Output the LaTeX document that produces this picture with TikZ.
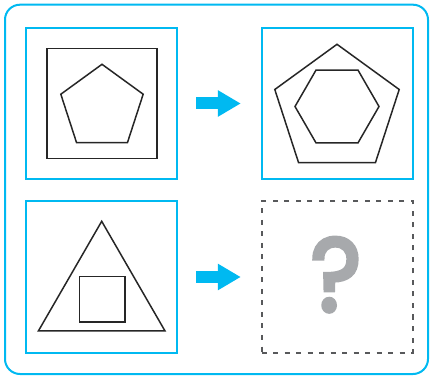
\documentclass[tikz,border=0pt]{standalone}
\usepackage{fontspec}
\newfontfamily\qfont{Poppins}[FakeBold=4]
\usetikzlibrary{arrows.meta,positioning,shapes.geometric}
\definecolor{pcyan}{RGB}{0,185,241}
\definecolor{dashgray}{RGB}{88,89,91}
\definecolor{qgray}{RGB}{167,169,172}

\begin{document}
\begin{tikzpicture}[x=1pt, y=-1pt,
  frame/.style={draw=pcyan, line width=2pt, rounded corners=15pt},
  panel/.style={draw=pcyan, line width=2pt, rectangle,
    minimum width=151pt, minimum height=151pt, inner sep=0pt},
  emptypanel/.style={draw=dashgray, line width=2pt, rectangle,
    dash pattern=on 5pt off 6.5pt,
    minimum width=151pt, minimum height=151pt, inner sep=0pt},
  figure/.style={draw=black!85, line width=1.5pt, inner sep=0pt},
  poly/.style={figure, regular polygon, regular polygon sides=#1},
  sq/.style={figure, rectangle, minimum width=#1, minimum height=#1},
  fatarrow/.style={-{Triangle[length=23pt, width=25pt]}, draw=pcyan,
    line width=12pt},
]
\useasboundingbox (0,0) rectangle (431,379);

%--- outer frame ---
\draw[frame] (5,4.7) rectangle (428,374);

%--- panels ---
\node[panel]      (pa) at (101.5,103.5) {};
\node[panel]      (pb) at (337,103.5)   {};
\node[panel]      (pc) at (101.5,277)   {};
\node[emptypanel] (pd) at (337,277)     {};

%--- top left: pentagon in square ---
\node[sq=110pt] (sqa) at (102,103.5) {};
\node[poly=5, minimum size=86.6pt] (pena) at (102,107.6) {};

%--- top right: hexagon in pentagon ---
\node[poly=5, minimum size=130.8pt] (penb) at (337,109.7) {};
\node[poly=6, minimum size=84pt] (hexb) at (337,106.5) {};

%--- bottom left: square in triangle ---
\node[poly=3, minimum size=146.2pt] (tric) at (101.7,294.4) {};
\node[sq=45.5pt] (sqc) at (102,299.5) {};

%--- question mark ---
\node[inner sep=0pt, text=qgray, xscale=0.93,
  font=\qfont\fontsize{104}{104}\selectfont] (qd) at (336,274.7) {?};

%--- arrows ---
\draw[fatarrow] ([xshift=18pt]pa.east) -- ([xshift=-19.7pt]pb.west);
\draw[fatarrow] ([xshift=18pt]pc.east) -- ([xshift=-19.7pt]pd.west);

\end{tikzpicture}
\end{document}
